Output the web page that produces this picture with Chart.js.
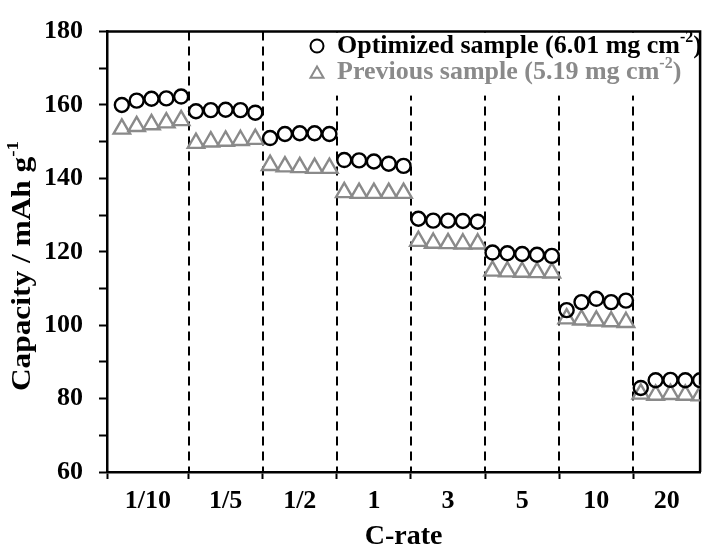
<!DOCTYPE html>
<html>
<head>
<meta charset="utf-8">
<title>Rate capability</title>
<script src="https://cdn.jsdelivr.net/npm/chart.js@4.4.1/dist/chart.umd.min.js"></script>
<style>
html, body { margin: 0; padding: 0; background: #fff; overflow: hidden; }
</style>
</head>
<body>
<canvas id="rateChart" width="712" height="549"></canvas>
<script>
// C-rate steps, 5 cycles each
const rates = ["1/10", "1/5", "1/2", "1", "3", "5", "10", "20"];
const cyclesPerRate = 5;

// discharge capacity (mAh g-1) per cycle
const optimized = [
  160.0, 161.2, 161.7, 161.8, 162.3,
  158.3, 158.6, 158.7, 158.6, 157.9,
  151.0, 152.1, 152.3, 152.3, 152.1,
  145.0, 144.9, 144.6, 144.0, 143.4,
  129.0, 128.5, 128.5, 128.4, 128.2,
  119.8, 119.6, 119.4, 119.2, 118.9,
  104.1, 106.3, 107.2, 106.3, 106.7,
  82.9, 85.0, 85.1, 85.0, 85.0
];
const previous = [
  153.5, 154.2, 154.7, 155.2, 155.8,
  149.6, 150.0, 150.2, 150.4, 150.7,
  143.6, 143.2, 143.0, 142.8, 142.8,
  136.2, 136.0, 136.0, 136.0, 136.0,
  122.9, 122.4, 122.3, 122.2, 122.2,
  114.8, 114.6, 114.5, 114.4, 114.3,
  101.8, 101.5, 101.2, 101.0, 100.8,
  81.3, 81.0, 81.2, 81.0, 80.8
];

const yMin = 60, yMax = 180, yStep = 20;
const xMax = rates.length * cyclesPerRate;

const grey = "#8a8a8a";
const serif = '"Liberation Serif", "Times New Roman", serif';

// dashed separators sit halfway between the last cycle of one rate and the next
const boundaries = rates.slice(1).map((r, i) => (i + 1) * cyclesPerRate + 0.5);
const edges = [0].concat(boundaries, [xMax]);
const labelPos = rates.map((r, i) => (edges[i] + edges[i + 1]) / 2);

const toPoints = arr => arr.map((v, i) => ({ x: i + 1, y: v }));

const separators = {
  id: "separators",
  beforeDatasetsDraw(chart) {
    const { ctx, chartArea, scales } = chart;
    ctx.save();
    ctx.strokeStyle = "#000";
    ctx.lineWidth = 2;
    ctx.setLineDash([9, 6]);
    boundaries.forEach(b => {
      const x = Math.round(scales.x.getPixelForValue(b));
      ctx.beginPath();
      ctx.moveTo(x, chartArea.top);
      ctx.lineTo(x, chartArea.bottom);
      ctx.stroke();
    });
    // legend box is opaque
    ctx.fillStyle = "#fff";
    ctx.fillRect(300, chartArea.top + 1, chartArea.right - 300, 63);
    ctx.setLineDash([]);
    ctx.lineWidth = 2.5;
    ctx.beginPath();
    ctx.moveTo(chartArea.left, chartArea.top);
    ctx.lineTo(chartArea.right, chartArea.top);
    ctx.lineTo(chartArea.right, chartArea.bottom);
    ctx.stroke();
    ctx.restore();
  }
};

// text with a raised exponent, drawn left to right from x
function supText(ctx, parts, x, y, size) {
  parts.forEach(p => {
    const s = p.sup ? Math.round(size * 0.6) : size;
    ctx.font = "bold " + s + "px " + serif;
    ctx.fillText(p.t, x, p.sup ? y - size * 0.33 : y);
    x += ctx.measureText(p.t).width;
  });
}
function supWidth(ctx, parts, size) {
  return parts.reduce((w, p) => {
    ctx.font = "bold " + (p.sup ? Math.round(size * 0.6) : size) + "px " + serif;
    return w + ctx.measureText(p.t).width;
  }, 0);
}

const annotations = {
  id: "annotations",
  afterDraw(chart) {
    const { ctx } = chart;
    ctx.save();
    ctx.textBaseline = "middle";
    ctx.textAlign = "left";

    // y axis title, slightly tall lettering
    const yTitle = [{ t: "Capacity / mAh g" }, { t: "-1", sup: true }];
    const ySize = 28;
    ctx.translate(23, 266);
    ctx.rotate(-Math.PI / 2);
    ctx.scale(1.12, 1);
    ctx.fillStyle = "#000";
    supText(ctx, yTitle, -supWidth(ctx, yTitle, ySize) / 2, 0, ySize);
    ctx.restore();

    // legend
    const rows = [
      { style: "circle", radius: 6.5, color: "#000",
        parts: [{ t: "Optimized sample (6.01 mg cm" }, { t: "-2", sup: true }, { t: ")" }] },
      { style: "triangle", radius: 7.5, color: grey,
        parts: [{ t: "Previous sample (5.19 mg cm" }, { t: "-2", sup: true }, { t: ")" }] }
    ];
    ctx.save();
    ctx.textBaseline = "middle";
    ctx.textAlign = "left";
    rows.forEach((r, i) => {
      const y = 46 + i * 26;
      ctx.strokeStyle = r.color;
      ctx.fillStyle = "rgba(0,0,0,0)";
      ctx.lineWidth = 2;
      Chart.helpers.drawPoint(ctx, { pointStyle: r.style, radius: r.radius, borderWidth: 2, rotation: 0 }, 317, y + (r.style === "triangle" ? 2 : 0));
      ctx.fillStyle = r.color;
      supText(ctx, r.parts, 337, y, 26);
    });
    ctx.restore();
  }
};

new Chart(document.getElementById("rateChart"), {
  type: "scatter",
  data: {
    datasets: [
      {
        label: "Optimized sample (6.01 mg cm-2)",
        data: toPoints(optimized),
        pointStyle: "circle",
        pointRadius: 7,
        pointBorderWidth: 2.4,
        pointBorderColor: "#000",
        pointBackgroundColor: "rgba(0,0,0,0)",
        showLine: false
      },
      {
        label: "Previous sample (5.19 mg cm-2)",
        data: toPoints(previous),
        pointStyle: "triangle",
        pointRadius: 9.5,
        pointBorderWidth: 2.4,
        pointBorderColor: grey,
        pointBackgroundColor: "rgba(0,0,0,0)",
        showLine: false
      }
    ]
  },
  options: {
    responsive: false,
    animation: false,
    events: [],
    layout: { padding: { top: 22, right: 5, left: 0, bottom: 0 } },
    plugins: {
      legend: { display: false },
      tooltip: { enabled: false }
    },
    scales: {
      x: {
        type: "linear",
        min: 0,
        max: xMax,
        afterBuildTicks(scale) {
          scale.ticks = [0].concat(boundaries, labelPos).sort((a, b) => a - b).map(v => ({ value: v }));
        },
        afterFit(scale) { scale.height = 77; },
        ticks: {
          autoSkip: false,
          maxRotation: 0,
          padding: 7,
          color: "#000",
          font: { family: serif, size: 26, weight: "bold" },
          callback(v) {
            const i = labelPos.indexOf(v);
            return i >= 0 ? rates[i] : "";
          }
        },
        grid: {
          drawOnChartArea: false,
          tickLength: 7,
          tickWidth: 2,
          tickColor: ctx => (ctx.tick && labelPos.indexOf(ctx.tick.value) >= 0) ? "rgba(0,0,0,0)" : "#000"
        },
        border: { color: "#000", width: 2.5 },
        title: {
          display: true,
          text: "C-rate",
          color: "#000",
          font: { family: serif, size: 28, weight: "bold", lineHeight: 0.8 },
          padding: { top: 0, bottom: 1 }
        }
      },
      y: {
        min: yMin,
        max: yMax,
        afterBuildTicks(scale) {
          const t = [];
          for (let v = yMin; v <= yMax; v += yStep / 2) t.push({ value: v });
          scale.ticks = t;
        },
        afterFit(scale) { scale.width = 107; },
        ticks: {
          padding: 16,
          color: "#000",
          font: { family: serif, size: 26, weight: "bold" },
          callback: v => (v % yStep === 0 ? v : "")
        },
        grid: {
          drawOnChartArea: false,
          tickLength: 8,
          tickWidth: 2,
          tickColor: "#000"
        },
        border: { color: "#000", width: 2.5 }
      }
    }
  },
  plugins: [separators, annotations]
});
</script>
</body>
</html>
